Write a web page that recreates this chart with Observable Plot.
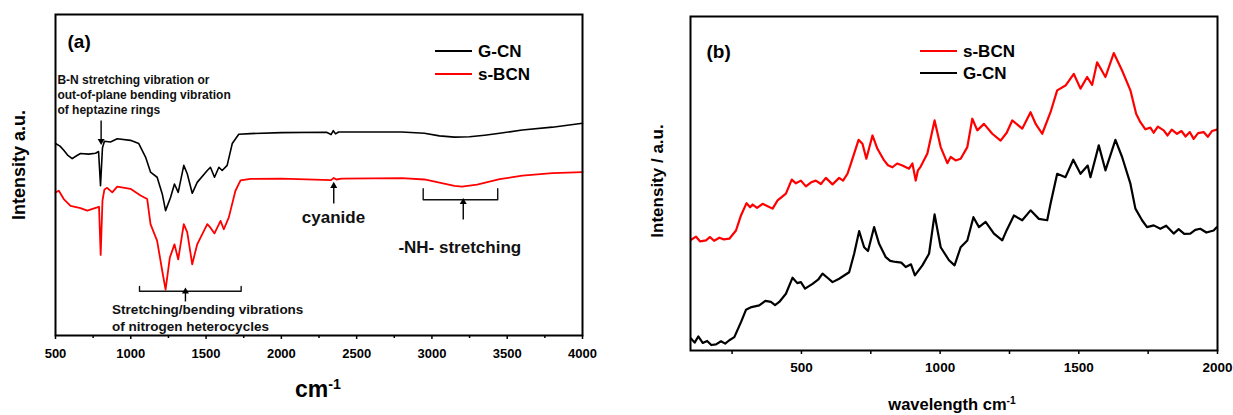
<!DOCTYPE html>
<html><head><meta charset="utf-8">
<script src="https://cdn.jsdelivr.net/npm/d3@7"></script>
<script src="https://cdn.jsdelivr.net/npm/@observablehq/plot@0.6"></script>
<style>
body{margin:0;background:#fff;}
#wrap{position:relative;width:1233px;height:415px;overflow:hidden;font-family:"Liberation Sans",Arial,sans-serif;font-weight:bold;color:#000;}
.abs{position:absolute;white-space:nowrap;line-height:1;}
.sw{position:absolute;height:2px;}
sup{font-size:0.62em;vertical-align:0.55em;line-height:0;}
</style></head><body><div id="wrap"></div>
<script>
// ---------- (a) FTIR ----------
const ftirMajorTicks = [500,1000,1500,2000,2500,3000,3500,4000];
const ftirMinorTicks = [750,1250,1750,2250,2750,3250,3750];
const ftirX_GCN = [500,530,555,580,611,640,666,720,766,786,799,812,825,865,910,998,1053,1098,1131,1175,1209,1231,1264,1290,1315,1352,1375,1408,1441,1508,1529,1556,1585,1607,1640,1674,1717,1795,2000,2300,2330,2345,2360,2380,2600,2800,2950,3050,3150,3250,3350,3450,3600,3800,4000];
const ftirY_GCN = [59.8,59.0,57.7,56.2,55.1,56.0,56.7,56.5,56.8,57.3,46.7,58.5,60.5,60.3,61.3,60.8,59.8,55.6,50.9,49.3,44.1,38.9,43.0,47.2,44.6,53.0,50.4,44.3,47.7,51.4,52.4,49.3,52.4,51.4,53.0,59.8,62.7,62.9,63.2,63.3,62.6,63.8,62.8,63.4,63.4,63.4,63.0,62.2,61.8,61.9,62.4,63.0,64.0,64.9,66.1];
const ftirX_BCN = [500,522,555,600,666,711,777,789,800,812,825,843,877,910,998,1065,1109,1131,1175,1209,1231,1259,1290,1315,1352,1375,1408,1441,1508,1529,1556,1596,1618,1651,1695,1729,1795,2000,2330,2348,2365,2400,2800,2950,3050,3150,3200,3300,3450,3600,3800,4000];
const ftirY_BCN = [44.6,45.1,42.5,40.4,39.7,38.9,39.9,40.1,25.1,42.0,45.5,46.0,44.6,46.4,45.7,43.6,42.5,34.7,29.5,20.1,14.3,24.2,28.4,23.7,34.7,32.1,22.2,28.4,34.7,33.6,31.8,35.7,33.1,36.8,45.1,48.3,48.8,48.9,48.4,49.1,48.6,48.9,49.0,48.6,47.6,46.6,46.4,47.0,48.7,49.8,50.6,50.9];
// annotations (data coordinates: wavenumber, intensity)
const bnLines = ["B-N stretching vibration or","out-of-plane bending vibration","of heptazine rings"];
const bnLineY = [79.4,74.8,70.2];
const hetLines = ["Stretching/bending vibrations","of nitrogen heterocycles"];
const hetLineY = [8.0,2.6];
const arrowX = [803,2348,3208,1363];
const arrowFrom = [67.0,41.1,36.1,10.6];
const arrowTo = [60.6,46.6,41.6,13.7];
const bracketX1 = [1058,2942];
const bracketX2 = [1733,3437];
const bracketBase = [13.8,42.3];
const bracketEnd = [15.3,45.7];
const calloutText = ["cyanide","-NH- stretching"];
const calloutX = [2346,3185];
const calloutY = [36.9,27.5];

// ---------- (b) Raman ----------
const ramanMajorTicks = [500,1000,1500,2000];
const ramanMinorTicks = [250,750,1250,1750];
const ramanX_BCN = [102,120,135,156,170,185,204,220,240,264,282,302,315,324,340,360,378,396,414,444,465,480,498,516,535,552,570,588,612,636,650,666,678,706,720,734,756,774,798,812,828,845,864,888,900,912,920,930,954,980,1002,1026,1038,1056,1074,1098,1116,1134,1158,1188,1218,1240,1260,1296,1326,1345,1368,1398,1422,1452,1482,1506,1530,1548,1566,1596,1626,1656,1686,1707,1722,1740,1758,1770,1785,1806,1820,1835,1854,1870,1885,1900,1914,1930,1950,1965,1980,1998];
const ramanY_BCN = [34.7,35.6,34.2,34.5,35.5,34.4,35.3,34.8,35.0,37.4,41.8,45.4,44.2,45.0,44.0,45.2,44.5,43.8,46.2,48.2,52.3,51.2,52.0,50.3,51.5,52.0,51.0,52.8,50.9,52.8,52.0,54.0,56.9,63.9,62.8,58.4,65.2,61.3,57.9,56.5,55.9,57.0,56.4,55.5,57.0,52.0,55.0,56.1,59.9,69.6,61.8,57.1,58.9,57.9,58.4,61.8,70.1,66.7,68.6,65.7,63.7,66.0,69.6,67.2,72.0,68.5,65.7,72.0,78.4,79.8,83.2,78.9,82.3,80.0,86.6,82.3,89.3,84.2,78.4,71.5,69.1,67.0,67.5,66.0,67.8,66.7,65.2,66.9,65.7,66.5,64.9,66.2,64.2,65.9,66.2,64.8,66.5,66.9];
const ramanX_GCN = [102,115,128,144,160,175,192,210,225,240,258,282,300,320,348,370,390,405,420,444,468,485,498,513,540,560,576,595,612,636,672,690,708,726,740,762,780,804,820,840,860,876,895,909,936,960,980,1002,1032,1052,1074,1098,1120,1140,1164,1194,1224,1240,1266,1296,1326,1356,1386,1398,1422,1452,1480,1506,1532,1542,1572,1596,1632,1656,1686,1704,1728,1746,1770,1794,1815,1842,1860,1880,1902,1920,1938,1960,1986,1998];
const ramanY_GCN = [5.8,4.6,6.4,4.5,5.1,3.9,4.1,5.0,4.3,5.3,6.2,10.6,14.2,15.0,15.5,16.8,16.5,15.6,16.5,18.9,23.6,22.0,22.3,20.4,21.8,23.0,24.8,23.5,22.3,23.3,25.2,30.6,37.2,32.5,31.4,38.4,33.5,29.6,28.5,28.2,28.0,26.7,27.5,24.3,27.2,30.6,42.1,32.5,28.7,27.2,32.5,34.5,41.3,38.4,39.9,36.5,34.5,37.5,41.8,40.4,43.3,40.8,40.4,45.2,54.0,53.0,58.1,54.0,56.4,53.0,62.3,55.0,63.9,58.9,51.1,43.8,40.4,38.4,38.9,37.9,38.8,36.5,37.8,36.4,36.5,37.6,37.9,36.8,37.4,38.4];

const FONT = '"Liberation Sans", Arial, Helvetica, sans-serif';
const toRows = (xs, ys) => xs.map((x, i) => ({x, y: ys[i]}));
const fmt = d => String(d);

// brackets as polylines
const bracketRows = [];
bracketX1.forEach((x1, i) => {
  const x2 = bracketX2[i];
  [[x1, bracketEnd[i]], [x1, bracketBase[i]], [x2, bracketBase[i]], [x2, bracketEnd[i]]]
    .forEach(([x, y]) => bracketRows.push({x, y, k: i}));
});
const arrows = arrowX.map((x, i) => ({x, y1: arrowFrom[i], y2: arrowTo[i], up: arrowTo[i] > arrowFrom[i]}));

const left = Plot.plot({
  width: 620, height: 415,
  marginLeft: 55, marginRight: 38, marginTop: 14, marginBottom: 80,
  x: {domain: [500, 4000], label: null},
  y: {domain: [0, 100], axis: null},
  style: {fontFamily: FONT, fontWeight: "bold", fontSize: "13px", background: "transparent", color: "#000"},
  marks: [
    Plot.axisX({ticks: ftirMajorTicks, tickFormat: fmt, tickSize: 4, tickPadding: 9, strokeWidth: 1.5, label: null, fontSize: 13}),
    Plot.axisX({ticks: ftirMinorTicks, tickFormat: () => "", tickSize: 3, strokeWidth: 1.5, label: null}),
    Plot.line(toRows(ftirX_GCN, ftirY_GCN), {x: "x", y: "y", stroke: "#000", strokeWidth: 1.6}),
    Plot.line(toRows(ftirX_BCN, ftirY_BCN), {x: "x", y: "y", stroke: "#ff0000", strokeWidth: 1.8}),
    Plot.line(bracketRows, {x: "x", y: "y", z: "k", stroke: "#111", strokeWidth: 1.4, curve: "linear"}),
    Plot.link(arrows, {x1: "x", x2: "x", y1: "y1", y2: "y2", stroke: "#000", strokeWidth: 1.4}),
    Plot.dot(arrows, {x: "x", y: "y2", symbol: "triangle", r: 2.6, fill: "#000", stroke: null,
      rotate: d => d.up ? 0 : 180, dy: 0}),
    Plot.text(bnLines, {x: () => 513, y: (d, i) => bnLineY[i], text: d => d, textAnchor: "start", fontSize: 12, fill: "#111"}),
    Plot.text(hetLines, {x: () => 876, y: (d, i) => hetLineY[i], text: d => d, textAnchor: "start", fontSize: 13.5, fill: "#111"}),
    Plot.text(calloutText, {x: (d, i) => calloutX[i], y: (d, i) => calloutY[i], text: d => d, fontSize: 17, fill: "#111"}),
    Plot.text(["(a)"], {frameAnchor: "top-left", dx: 12, dy: 20, text: d => d, textAnchor: "start", fontSize: 19}),
    Plot.frame({stroke: "#000", strokeWidth: 2})
  ]
});

const right = Plot.plot({
  width: 613, height: 415,
  marginLeft: 70, marginRight: 16, marginTop: 16, marginBottom: 65,
  x: {domain: [100, 2000], label: null},
  y: {domain: [2.3, 100], axis: null},
  style: {fontFamily: FONT, fontWeight: "bold", fontSize: "13px", background: "transparent", color: "#000"},
  marks: [
    Plot.axisX({ticks: ramanMajorTicks, tickFormat: fmt, tickSize: 4, tickPadding: 8, strokeWidth: 1.5, label: null, fontSize: 13.5}),
    Plot.axisX({ticks: ramanMinorTicks, tickFormat: () => "", tickSize: 4, strokeWidth: 1.5, label: null}),
    Plot.line(toRows(ramanX_GCN, ramanY_GCN), {x: "x", y: "y", stroke: "#000", strokeWidth: 2.2}),
    Plot.line(toRows(ramanX_BCN, ramanY_BCN), {x: "x", y: "y", stroke: "#ff0000", strokeWidth: 2.2}),
    Plot.text(["(b)"], {frameAnchor: "top-left", dx: 16, dy: 28, text: d => d, textAnchor: "start", fontSize: 19}),
    Plot.frame({stroke: "#000", strokeWidth: 2})
  ]
});

const wrap = document.getElementById("wrap");
left.style.position = "absolute"; left.style.left = "0px"; left.style.top = "0px";
right.style.position = "absolute"; right.style.left = "620px"; right.style.top = "0px";
wrap.appendChild(left);
wrap.appendChild(right);

function label(html, cx, cy, size, rotate) {
  const d = document.createElement("div");
  d.className = "abs";
  d.innerHTML = html;
  d.style.left = cx + "px"; d.style.top = cy + "px";
  d.style.fontSize = size + "px";
  d.style.transform = "translate(-50%,-50%)" + (rotate ? " rotate(-90deg)" : "");
  wrap.appendChild(d);
}
label("Intensity a.u.", 19, 165, 18, true);
label("cm<sup>-1</sup>", 318, 389, 23, false);
label("Intensity / a.u.", 657, 181, 17, true);
label("wavelength cm<sup>-1</sup>", 952, 404, 16.5, false);

// legends
const legendA = [{name: "G-CN", color: "#000"}, {name: "s-BCN", color: "#ff0000"}];
const legendB = [{name: "s-BCN", color: "#ff0000"}, {name: "G-CN", color: "#000"}];
function legend(items, x0, y0, gap) {
  items.forEach((it, i) => {
    const y = y0 + i * gap;
    const s = document.createElement("div");
    s.className = "sw";
    s.style.left = x0 + "px"; s.style.top = (y - 1) + "px"; s.style.width = "37px";
    s.style.background = it.color;
    wrap.appendChild(s);
    const t = document.createElement("div");
    t.className = "abs";
    t.textContent = it.name;
    t.style.left = (x0 + 43) + "px"; t.style.top = y + "px";
    t.style.fontSize = "17px";
    t.style.transform = "translateY(-50%)";
    wrap.appendChild(t);
  });
}
legend(legendA, 435, 51, 22.5);
legend(legendB, 920, 51, 22);
</script></body></html>
